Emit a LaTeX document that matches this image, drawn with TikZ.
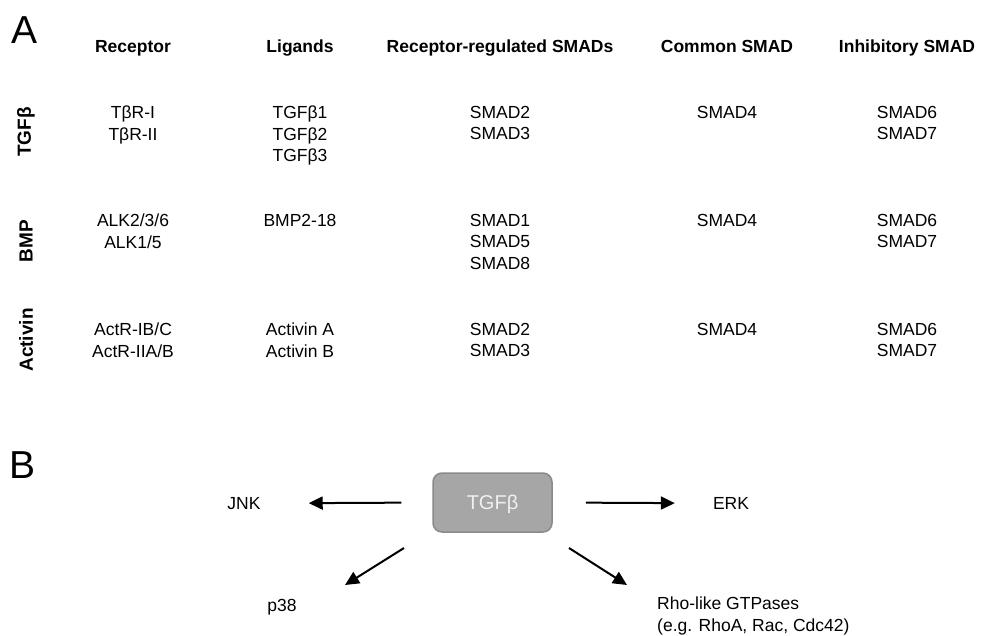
\documentclass[tikz,border=0pt]{standalone}
\usepackage{fontspec}
\setmainfont{Liberation Sans}
\usetikzlibrary{arrows.meta}
\definecolor{boxfill}{HTML}{A6A6A6}
\definecolor{boxdraw}{HTML}{8A8A8A}
\definecolor{boxtext}{HTML}{F0F0F0}
\tikzset{
  cell/.style={anchor=north,inner sep=0pt,align=center,font=\fontsize{17.5}{21.5}\selectfont},
  head/.style={anchor=base,inner sep=0pt,font=\bfseries\fontsize{17.5}{21.5}\selectfont},
  rowlab/.style={anchor=center,inner sep=0pt,rotate=90,font=\bfseries\fontsize{19}{22}\selectfont},
  panel/.style={anchor=center,inner sep=0pt,font=\fontsize{39}{44}\selectfont},
  plain/.style={anchor=base,inner sep=0pt,font=\fontsize{17.5}{21.5}\selectfont},
  tgfbox/.style={draw=boxdraw,fill=boxfill,line width=1.5pt,rounded corners=9pt,minimum width=119pt,minimum height=59pt,inner sep=0pt,text height=14.3pt,text depth=0pt,text=boxtext,font=\fontsize{20}{24}\selectfont},
  arr/.style={line width=2pt,-{Triangle[length=14pt,width=13pt]}}
}
\begin{document}
\begin{tikzpicture}[x=1pt,y=-1pt]
\useasboundingbox (0,0) rectangle (982,635);
% Panel letters
\node[panel] (A) at (25,30) {A};
\node[panel] (B) at (23,465) {B};
% Headers
\node[head] (h1) at (133,52.3) {Receptor};
\node[head] (h2) at (300,52.3) {Ligands};
\node[head] (h3) at (500,52.3) {Receptor-regulated SMADs};
\node[head] (h4) at (727,52.3) {Common SMAD};
\node[head] (h5) at (907,52.3) {Inhibitory SMAD};
% Row labels
\node[rowlab] (r1) at (26,132) {TGFβ};
\node[rowlab] (r2) at (26,241) {BMP};
\node[rowlab] (r3) at (26,340) {Activin};
% TGFb row
\node[cell] (c11) at (133,105.7) {TβR-I\\TβR-II};
\node[cell] (c12) at (300,105.7) {TGFβ1\\TGFβ2\\TGFβ3};
\node[cell] (c13) at (500,105.7) {SMAD2\\SMAD3};
\node[cell] (c14) at (727,105.7) {SMAD4};
\node[cell] (c15) at (907,105.7) {SMAD6\\SMAD7};
% BMP row
\node[cell] (c21) at (133,213.7) {ALK2/3/6\\ALK1/5};
\node[cell] (c22) at (300,213.7) {BMP2-18};
\node[cell] (c23) at (500,213.7) {SMAD1\\SMAD5\\SMAD8};
\node[cell] (c24) at (727,213.7) {SMAD4};
\node[cell] (c25) at (907,213.7) {SMAD6\\SMAD7};
% Activin row
\node[cell] (c31) at (133,322.7) {ActR-IB/C\\ActR-IIA/B};
\node[cell] (c32) at (300,322.7) {Activin A\\Activin B};
\node[cell] (c33) at (500,322.7) {SMAD2\\SMAD3};
\node[cell] (c34) at (727,322.7) {SMAD4};
\node[cell] (c35) at (907,322.7) {SMAD6\\SMAD7};
% Panel B
\node[tgfbox] (tgf) at (492.5,502.5) {TGFβ};
\node[plain] (jnk) at (244,509.3) {JNK};
\node[plain] (erk) at (731,509.3) {ERK};
\node[plain] (p38) at (282,611.3) {p38};
\node[cell,anchor=north west,align=left] (rho) at (657,596.7) {Rho-like GTPases\\(e.g. RhoA, Rac, Cdc42)};
\coordinate (dlS) at (404,548);
\coordinate (dlE) at (345,585);
\coordinate (drS) at (569,548);
\coordinate (drE) at (627,585);
\draw[arr,shorten <=31pt,shorten >=48pt] (tgf.west) -- (jnk.east);
\draw[arr,shorten <=33pt,shorten >=38pt] (tgf.east) -- (erk.west);
\draw[arr] (dlS) -- (dlE);
\draw[arr] (drS) -- (drE);
\end{tikzpicture}
\end{document}
